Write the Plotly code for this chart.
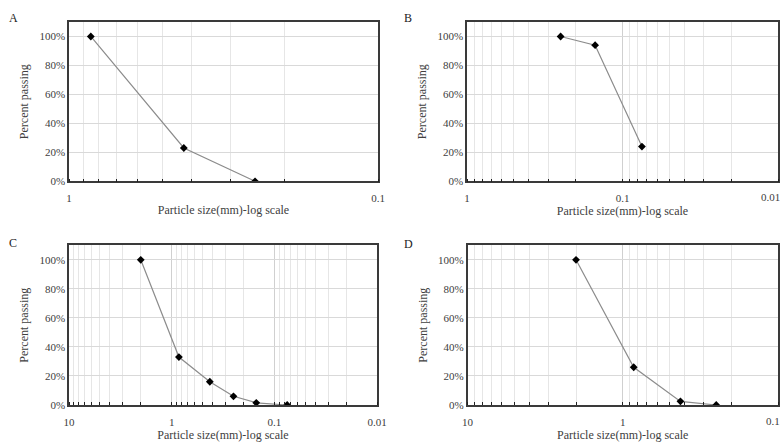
import plotly.graph_objects as go
import math

# ---- data ----
size_a = [0.85, 0.425, 0.25]
pass_a = [1.00, 0.23, 0.00]
size_b = [0.25, 0.15, 0.075]
pass_b = [1.00, 0.94, 0.24]
size_c = [2.0, 0.85, 0.425, 0.25, 0.15, 0.075]
pass_c = [1.00, 0.33, 0.16, 0.06, 0.015, 0.00]
size_d = [2.0, 0.85, 0.425, 0.25]
pass_d = [1.00, 0.26, 0.025, 0.00]

panel_labels = ["A", "B", "C", "D"]
x_ranges = [(1, 0.1), (1, 0.01), (10, 0.01), (10, 0.1)]
x_tickvals_all = [10, 1, 0.1, 0.01]
x_ticktext_all = ["10", "1", "0.1", "0.01"]
y_tickvals = [0, 0.2, 0.4, 0.6, 0.8, 1.0]
x_title = "Particle size(mm)-log scale"
y_title = "Percent passing"

W, H = 782, 442
# plot-area pixel boxes (left, right, top, bottom)
boxes = [
    (69, 378, 22, 181.3),
    (467, 778, 22, 181.3),
    (69, 377, 245.3, 405),
    (467.5, 778, 245.3, 405),
]
label_pos = [(13, 18), (408, 18), (13, 243), (409, 244)]

FONT = "Liberation Serif"
TXT = "#404040"
fig = go.Figure()
series = [(size_a, pass_a), (size_b, pass_b), (size_c, pass_c), (size_d, pass_d)]

layout = dict(
    width=W, height=H, margin=dict(l=0, r=0, t=0, b=0, autoexpand=False),
    paper_bgcolor="white", plot_bgcolor="white", showlegend=False,
    font=dict(family=FONT, size=11, color=TXT),
)
annotations = []
for i, ((xs, ys), (l, r, t, b)) in enumerate(zip(series, boxes)):
    n = "" if i == 0 else str(i + 1)
    fig.add_trace(go.Scatter(
        x=xs, y=ys, mode="lines+markers",
        line=dict(color="#8c8c8c", width=1.2),
        marker=dict(symbol="diamond", size=6, color="black"),
        xaxis="x" + n, yaxis="y" + n,
    ))
    lo, hi = x_ranges[i]
    tv = [v for v in x_tickvals_all if lo >= v >= hi]
    tt = [x_ticktext_all[x_tickvals_all.index(v)] for v in tv]
    # right-most label is drawn as a right-aligned annotation so it stays inside the page
    if r > 770:
        last_text = tt[-1]
        tt = tt[:-1] + [""]
        annotations.append(dict(
            text=last_text, x=1.0, y=1 - (b + 15.5) / H, xref="paper", yref="paper",
            showarrow=False, xanchor="right", yanchor="middle",
            font=dict(size=11, color=TXT, family=FONT),
        ))
    layout["xaxis" + n] = dict(
        type="log", range=[math.log10(lo), math.log10(hi)],
        domain=[l / W, r / W], anchor="y" + n, automargin=False,
        tickvals=tv, ticktext=tt, ticks="", ticklabelstandoff=6,
        showgrid=True, gridcolor="#d0d0d0", gridwidth=1,
        minor=dict(dtick="D1", ticks="inside", ticklen=3, tickcolor="#222",
                   showgrid=True, gridcolor="#e6e6e6", gridwidth=1),
        showline=True, linecolor="#3a3a3a", linewidth=1.5, mirror=True,
        tickfont=dict(size=11, color=TXT, family=FONT),
        title=dict(text=x_title, font=dict(size=12, color=TXT, family=FONT), standoff=2),
        zeroline=False,
    )
    layout["yaxis" + n] = dict(
        range=[0, 1.1], domain=[1 - b / H, 1 - t / H], anchor="x" + n, automargin=False,
        tickvals=y_tickvals, tickformat=".0%", ticks="",
        showgrid=True, gridcolor="#d9d9d9", gridwidth=1,
        showline=True, linecolor="#3a3a3a", linewidth=1.5, mirror=True,
        tickfont=dict(size=11, color=TXT, family=FONT),
        title=dict(text=y_title, font=dict(size=12, color=TXT, family=FONT), standoff=8),
        zeroline=False,
    )
    lx, ly = label_pos[i]
    annotations.append(dict(
        text=panel_labels[i], x=lx / W, y=1 - ly / H, xref="paper", yref="paper",
        showarrow=False, xanchor="center", yanchor="middle",
        font=dict(size=12, color="#222", family=FONT),
    ))
layout["annotations"] = annotations
fig.update_layout(**layout)
fig.write_html(
    "out.html",
    config={"displayModeBar": False},
    post_script="document.body.style.margin='0';document.body.style.overflow='hidden';",
)
